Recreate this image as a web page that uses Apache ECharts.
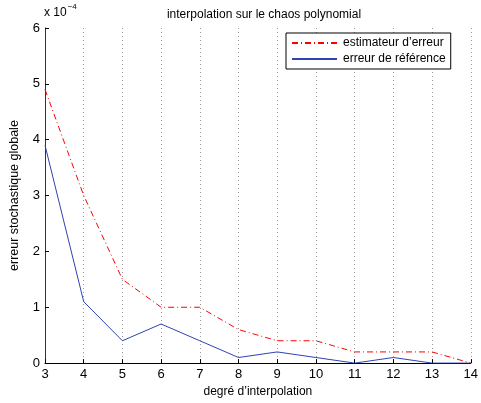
<!DOCTYPE html>
<html>
<head>
<meta charset="utf-8">
<script src="https://cdn.jsdelivr.net/npm/echarts@6/dist/echarts.min.js"></script>
<style>html,body{margin:0;padding:0;background:#fff}#c{width:481px;height:403px}</style>
</head>
<body>
<div id="c"></div>
<script>
// values in units of 10^-4
var degrees = [3, 4, 5, 6, 7, 8, 9, 10, 11, 12, 13, 14];
var estimateur = [4.9, 3.0, 1.5, 1.0, 1.0, 0.6, 0.4, 0.4, 0.2, 0.2, 0.2, 0.0];
var reference = [3.9, 1.1, 0.4, 0.7, 0.4, 0.1, 0.2, 0.1, 0.0, 0.1, 0.0, 0.0];
var seriesNames = ['estimateur d\u2019erreur', 'erreur de r\u00e9f\u00e9rence'];
var titleText = 'interpolation sur le chaos polynomial';
var xName = 'degr\u00e9 d\u2019interpolation';
var yName = 'erreur stochastique globale';

function pairs(xs, ys) { return xs.map(function (x, i) { return [x, ys[i]]; }); }

var font = 'Liberation Sans, Arial, sans-serif';
var chart = echarts.init(document.getElementById('c'), null, { renderer: 'canvas' });
chart.setOption({
  animation: false,
  backgroundColor: '#fff',
  title: {
    text: titleText, left: 259, top: 4, textAlign: 'center',
    textStyle: { fontFamily: font, fontSize: 12, fontWeight: 'normal', color: '#000' }
  },
  grid: { left: 43, right: 7, top: 28, bottom: 35 },
  legend: {
    left: 286, top: 33, orient: 'vertical',
    padding: [4, 5, 4, 5],
    itemGap: 4,
    itemWidth: 45, itemHeight: 10,
    borderColor: '#000', borderWidth: 1,
    backgroundColor: '#fff',
    itemStyle: { opacity: 0 },
    textStyle: { fontFamily: font, fontSize: 12, color: '#000', padding: [0, 0, 0, 1] },
    data: seriesNames
  },
  xAxis: {
    type: 'value', min: 3, max: 14, interval: 1,
    name: xName, nameLocation: 'middle', nameGap: 19,
    nameTextStyle: { fontFamily: font, fontSize: 12, color: '#000' },
    axisLine: { onZero: false, lineStyle: { color: '#000', width: 1 } },
    axisTick: { inside: true, length: 4, lineStyle: { color: '#000' } },
    axisLabel: { fontFamily: font, fontSize: 13, color: '#000', margin: 5 },
    splitLine: { show: true, lineStyle: { type: [1, 3], color: '#999', width: 1 } }
  },
  yAxis: {
    type: 'value', min: 0, max: 6, interval: 1,
    name: yName, nameLocation: 'middle', nameGap: 24, nameRotate: 90,
    nameTextStyle: { fontFamily: font, fontSize: 12.5, color: '#000' },
    axisLine: { show: true, lineStyle: { color: '#333', width: 1 } },
    axisTick: { show: true, inside: true, length: 4, lineStyle: { color: '#000' } },
    axisLabel: { fontFamily: font, fontSize: 13, color: '#000', margin: 5 },
    splitLine: { show: false }
  },
  graphic: [{
    type: 'text', left: 44, top: 3,
    style: {
      text: '{a|x 10}{b|\u22124}',
      rich: {
        a: { fontFamily: font, fontSize: 12, fill: '#000', padding: [6, 0, 0, 0] },
        b: { fontFamily: font, fontSize: 8, fill: '#000', padding: [0, 0, 6, 1] }
      }
    }
  }],
  series: [{
    name: seriesNames[0], type: 'line', symbol: 'none',
    data: pairs(degrees, estimateur),
    lineStyle: { color: '#ff0000', width: 1, type: [6, 3, 1, 3] },
    itemStyle: { color: '#ff0000' },
    z: 3
  }, {
    name: seriesNames[1], type: 'line', symbol: 'none',
    data: pairs(degrees, reference),
    lineStyle: { color: '#2f43b3', width: 1 },
    itemStyle: { color: '#2f43b3' },
    z: 2
  }]
});
</script>
</body>
</html>
